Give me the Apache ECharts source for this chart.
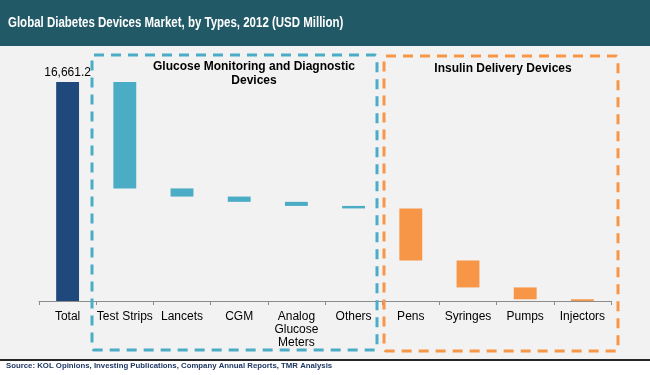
<!DOCTYPE html>
<html>
<head>
<meta charset="utf-8">
<script src="https://cdn.jsdelivr.net/npm/echarts@6/dist/echarts.min.js"></script>
<style>
  html, body { margin: 0; padding: 0; background: #ffffff; }
  #main { width: 650px; height: 375px; }
</style>
</head>
<body>
<div id="main"></div>
<script>
var categories = ['Total', 'Test Strips', 'Lancets', 'CGM', 'Analog\nGlucose\nMeters', 'Others', 'Pens', 'Syringes', 'Pumps', 'Injectors'];
var totalValue = 16661.2;
// drops for each device type (USD Million)
var typeValues = [8100, 620, 400, 310, 190, 3960, 2050, 900, 131.2];
var typeGroups = ['glucose', 'glucose', 'glucose', 'glucose', 'glucose', 'insulin', 'insulin', 'insulin', 'insulin'];

var colors = { total: '#1f497d', glucose: '#4bacc6', insulin: '#f79646' };

var dom = document.getElementById('main');
var myChart = echarts.init(dom);

// waterfall: invisible base + visible part
var baseData = [0];
var barData = [{ value: totalValue, itemStyle: { color: colors.total } }];
var running = totalValue;
for (var i = 0; i < typeValues.length; i++) {
    running = running - typeValues[i];
    baseData.push(running);
    barData.push({ value: typeValues[i], itemStyle: { color: colors[typeGroups[i]] } });
}
barData[0].label = {
    show: true,
    position: 'top',
    formatter: function (p) { return echarts.format.addCommas(p.value.toFixed(1)); },
    color: '#000',
    fontSize: 12,
    fontFamily: 'Liberation Sans, Arial',
    distance: 3
};

var option = {
    backgroundColor: '#ffffff',
    animation: false,
    grid: { left: 39, right: 39, top: 38, bottom: 74 },
    xAxis: {
        type: 'category',
        data: categories,
        axisLine: { lineStyle: { color: '#8c8c8c', width: 1 } },
        axisTick: { show: true, length: 4, lineStyle: { color: '#8c8c8c' } },
        axisLabel: {
            color: '#000',
            fontSize: 12,
            fontFamily: 'Liberation Sans, Arial',
            margin: 9,
            lineHeight: 13,
            interval: 0
        }
    },
    yAxis: {
        type: 'value',
        min: 0,
        max: 20000,
        show: false,
        splitLine: { show: false }
    },
    graphic: [
        { type: 'rect', z: -10, shape: { x: 0, y: 46, width: 650, height: 314 }, style: { fill: '#f2f2f2' } },
        { type: 'rect', z: -5, shape: { x: 0, y: 0, width: 650, height: 46 }, style: { fill: '#215967' } },
        {
            type: 'text', x: 8, y: 16, scaleX: 0.82,
            style: {
                text: 'Global Diabetes Devices Market, by Types, 2012 (USD Million)',
                fill: '#ffffff',
                font: 'bold 14px "Liberation Sans", Arial'
            }
        },
        { type: 'rect', shape: { x: 0, y: 359, width: 650, height: 2 }, style: { fill: '#262626' } },
        {
            type: 'text', left: 6, top: 362,
            style: {
                text: 'Source: KOL Opinions, Investing Publications, Company Annual Reports, TMR Analysis',
                fill: '#1f3864',
                font: 'bold 7.8px "Liberation Sans", Arial'
            }
        },
        {
            type: 'rect', z: 10,
            shape: { x: 92, y: 55, width: 285, height: 295, r: 2 },
            style: { fill: 'none', stroke: '#4bacc6', lineWidth: 3, lineDash: [10, 7] }
        },
        {
            type: 'rect', z: 10,
            shape: { x: 384, y: 56, width: 234, height: 295, r: 2 },
            style: { fill: 'none', stroke: '#f79646', lineWidth: 3, lineDash: [10, 7] }
        },
        {
            type: 'text', z: 11, x: 254, y: 60,
            style: {
                text: 'Glucose Monitoring and Diagnostic\nDevices',
                fill: '#000',
                align: 'center',
                lineHeight: 14,
                font: 'bold 12px "Liberation Sans", Arial'
            }
        },
        {
            type: 'text', z: 11, x: 503, y: 63,
            style: {
                text: 'Insulin Delivery Devices',
                fill: '#000',
                align: 'center',
                font: 'bold 12px "Liberation Sans", Arial'
            }
        }
    ],
    series: [
        {
            name: 'base',
            type: 'bar',
            stack: 'fall',
            barWidth: '40%',
            silent: true,
            itemStyle: { color: 'transparent', borderColor: 'transparent' },
            data: baseData
        },
        {
            name: 'value',
            type: 'bar',
            stack: 'fall',
            barWidth: '40%',
            itemStyle: { borderWidth: 0 },
            data: barData
        }
    ]
};

if (option && typeof option === "object") {
    myChart.setOption(option, true);
}
</script>
</body>
</html>
